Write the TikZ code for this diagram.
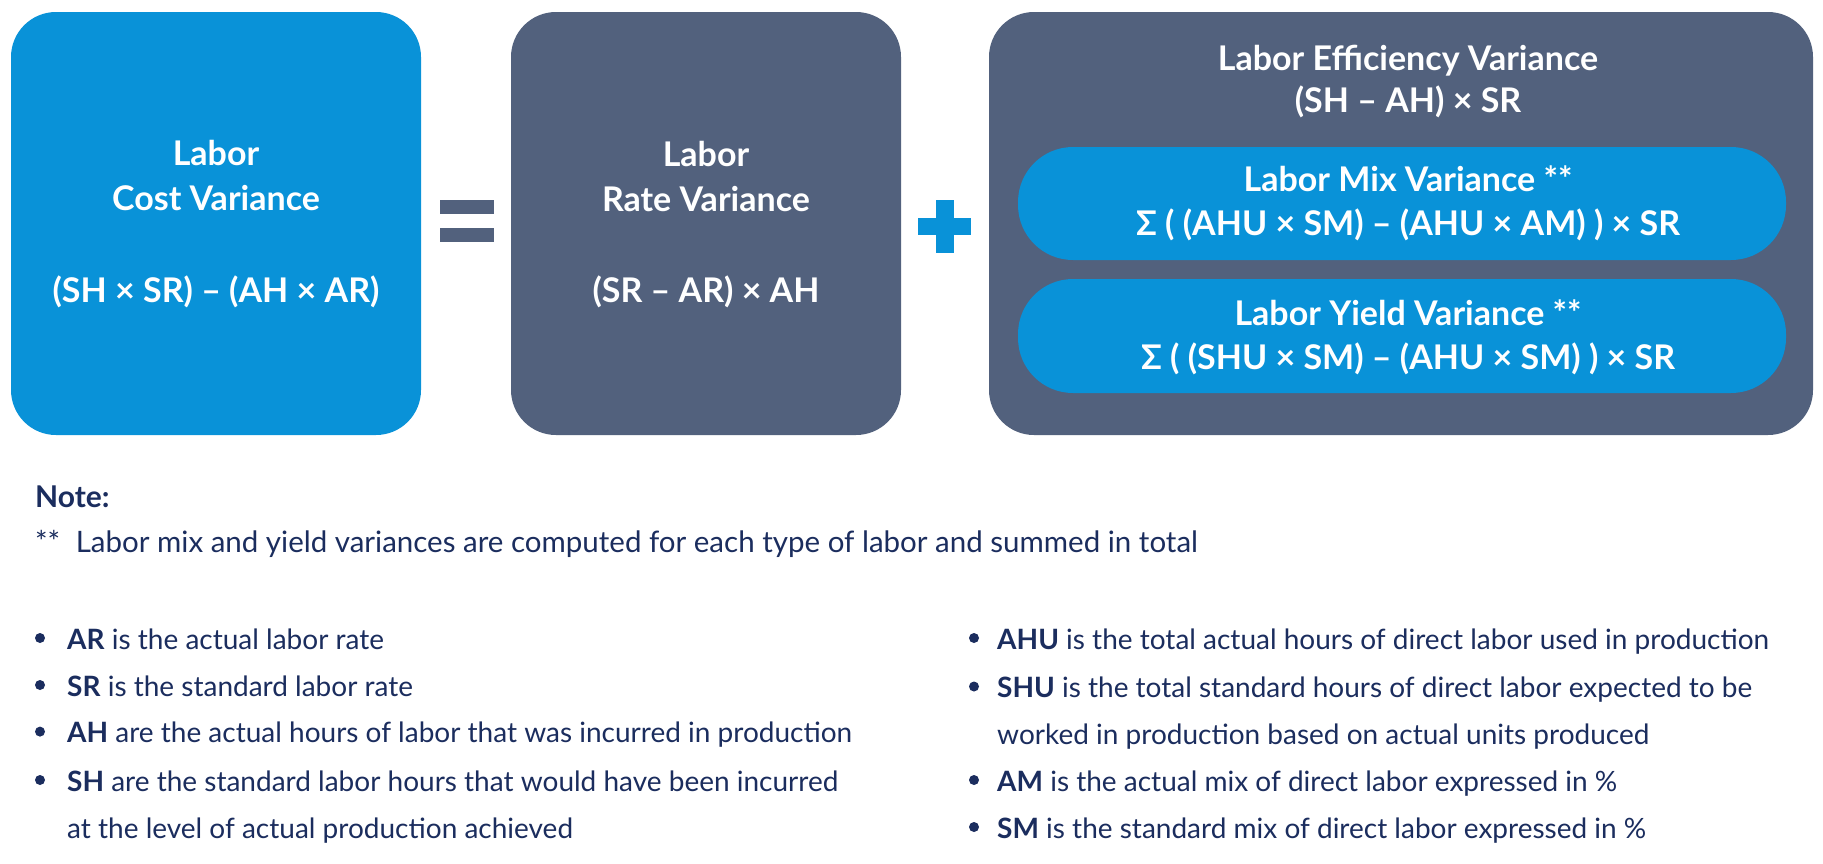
\documentclass[tikz,border=0pt]{standalone}
\usepackage{fontspec}
\setmainfont{Lato}
\definecolor{lblue}{RGB}{9,146,216}
\definecolor{slate}{RGB}{82,97,125}
\definecolor{navy}{RGB}{27,45,94}
\begin{document}
\begin{tikzpicture}[x=1pt,y=-1pt,
  panel/.style={draw=none,rounded corners=45pt,inner sep=0pt},
  pill/.style={draw=none,fill=lblue,rounded corners=55pt,inner sep=0pt},
  ttl/.style={text=white,font=\fontsize{34}{40}\selectfont\bfseries,anchor=base,inner sep=0pt},
  body/.style={text=navy,font=\fontsize{28}{34}\selectfont,anchor=base west,inner sep=0pt},
  dot/.style={circle,fill=navy,minimum size=10pt,inner sep=0pt}]
\useasboundingbox (0,0) rectangle (1823,863);
\fill[white] (0,0) rectangle (1823,863);
% panels
\node[panel,fill=lblue,minimum width=410pt,minimum height=423pt] (cost) at (216,223.5) {};
\node[panel,fill=slate,minimum width=390pt,minimum height=423pt] (rate) at (706,223.5) {};
\node[panel,fill=slate,minimum width=824pt,minimum height=423pt] (eff) at (1401,223.5) {};
\node[pill,minimum width=768pt,minimum height=113pt] (mix) at (1402,203.5) {};
\node[pill,minimum width=768pt,minimum height=114pt] (yield) at (1402,336) {};
% operators
\fill[slate] (440,200) rectangle (494,214);
\fill[slate] (440,228) rectangle (494,242);
\fill[lblue] (918,218) rectangle (971,235);
\fill[lblue] (936,200) rectangle (954,253);
% texts in panels
\node[ttl] (c1) at (216,165.5) {Labor};
\node[ttl] (c2) at (216,210.7) {Cost Variance};
\node[ttl] (c3) at (216,302.7) {(SH × SR) – (AH × AR)};
\node[ttl] (r1) at (706,166) {Labor};
\node[ttl] (r2) at (706,211) {Rate Variance};
\node[ttl] (r3) at (706,302.7) {(SR – AR) × AH};
\node[ttl] (e1) at (1408,70.2) {Labor Efficiency Variance};
\node[ttl] (e2) at (1408,112) {(SH – AH) × SR};
\node[ttl] (m1) at (1408,191.3) {Labor Mix Variance **};
\node[ttl] (m2) at (1408,235) {Σ ( (AHU × SM) – (AHU × AM) ) × SR};
\node[ttl] (y1) at (1408,325) {Labor Yield Variance **};
\node[ttl] (y2) at (1408,369.6) {Σ ( (SHU × SM) – (AHU × SM) ) × SR};
% note
\node[body,font=\fontsize{30}{34}\selectfont\bfseries] (note) at (35,507) {Note:};
\node[body,font=\fontsize{29.5}{34}\selectfont] (star) at (35,552) {**};
\node[body,font=\fontsize{29.5}{34}\selectfont] (notetxt) at (75.6,552) {Labor mix and yield variances are computed for each type of labor and summed in total};
% left bullets
\node[dot] (b1) at (40,638) {};
\node[body] (l1) at (67,649) {\textbf{AR} is the actual labor rate};
\node[dot] (b2) at (40,685) {};
\node[body] (l2) at (67,696) {\textbf{SR} is the standard labor rate};
\node[dot] (b3) at (40,731.6) {};
\node[body] (l3) at (67,742.6) {\textbf{AH} are the actual hours of labor that was incurred in production};
\node[dot] (b4) at (40,780) {};
\node[body] (l4) at (67,791) {\textbf{SH} are the standard labor hours that would have been incurred};
\node[body] (l5) at (67,838) {at the level of actual production achieved};
% right bullets
\node[dot] (b5) at (974,638) {};
\node[body] (r1t) at (997,649) {\textbf{AHU} is the total actual hours of direct labor used in production};
\node[dot] (b6) at (974,686.5) {};
\node[body] (r2t) at (997,697.5) {\textbf{SHU} is the total standard hours of direct labor expected to be};
\node[body] (r3t) at (997,744) {worked in production based on actual units produced};
\node[dot] (b7) at (974,780) {};
\node[body] (r4t) at (997,791) {\textbf{AM} is the actual mix of direct labor expressed in \%};
\node[dot] (b8) at (974,827) {};
\node[body] (r5t) at (997,838) {\textbf{SM} is the standard mix of direct labor expressed in \%};
\end{tikzpicture}
\end{document}
